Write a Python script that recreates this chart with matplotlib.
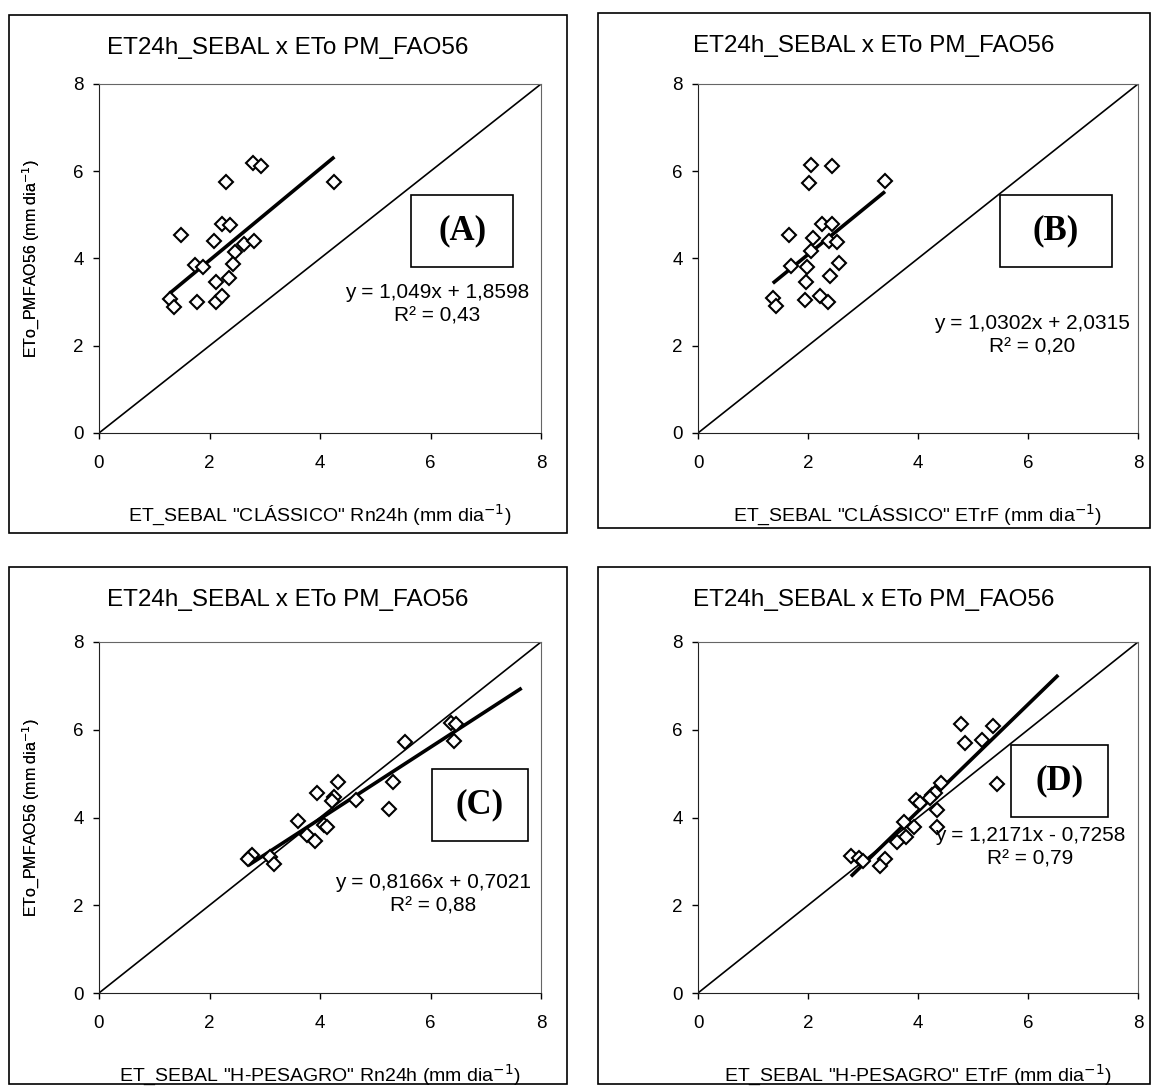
import matplotlib
matplotlib.use("Agg")
import numpy as np
import matplotlib.pyplot as plt
from matplotlib.patches import Rectangle

plt.rcParams['font.family'] = ['Liberation Sans', 'DejaVu Sans']

# ---- dados ----
# (A) SEBAL classico Rn24h
xa = [2.78, 2.94, 2.29, 4.26, 2.23, 2.37, 1.48, 2.09, 2.63, 2.80, 2.47,
      1.74, 1.89, 2.43, 2.12, 2.36, 1.28, 1.36, 1.78, 2.12, 2.23]
ya = [6.19, 6.12, 5.75, 5.75, 4.79, 4.76, 4.54, 4.41, 4.33, 4.41, 4.15,
      3.84, 3.81, 3.87, 3.47, 3.55, 3.08, 2.88, 3.01, 3.01, 3.13]
# (B) SEBAL classico ETrF
xb = [2.05, 2.43, 2.02, 3.40, 2.25, 2.43, 1.65, 2.09, 2.39, 2.53, 2.05,
      1.69, 1.99, 2.57, 2.40, 1.96, 1.36, 1.42, 1.95, 2.22, 2.36]
yb = [6.15, 6.11, 5.73, 5.77, 4.79, 4.79, 4.54, 4.47, 4.39, 4.37, 4.17,
      3.83, 3.81, 3.89, 3.61, 3.47, 3.09, 2.91, 3.05, 3.13, 3.01]
# (C) H-PESAGRO Rn24h
xc = [6.38, 6.47, 6.43, 5.54, 4.33, 5.32, 3.94, 4.25, 4.21, 4.66, 5.24,
      3.61, 4.07, 4.12, 3.77, 3.91, 2.73, 2.77, 2.70, 3.10, 3.16]
yc = [6.16, 6.13, 5.75, 5.71, 4.80, 4.80, 4.55, 4.46, 4.38, 4.40, 4.19,
      3.93, 3.83, 3.79, 3.60, 3.47, 3.09, 3.14, 3.05, 3.11, 2.94]
# (D) H-PESAGRO ETrF
xd = [4.78, 5.37, 4.85, 5.16, 5.43, 4.42, 4.25, 4.31, 3.96, 4.04, 4.21,
      4.34, 4.34, 3.75, 3.92, 3.79, 3.61, 2.78, 2.93, 3.40, 3.31, 3.00]
yd = [6.12, 6.09, 5.70, 5.77, 4.76, 4.78, 4.51, 4.55, 4.40, 4.34, 4.44,
      4.16, 3.79, 3.90, 3.78, 3.56, 3.45, 3.12, 3.07, 3.05, 2.89, 3.00]

# linhas de tendencia (coef. da equacao e intervalo de x)
coef = [(1.049, 1.8598), (1.0302, 2.0315), (0.8166, 0.7021), (1.2171, -0.7258)]
trend_x = [(1.28, 4.26), (1.36, 3.40), (2.70, 7.65), (2.78, 6.55)]
eq_txt = ["y = 1,049x + 1,8598\nR² = 0,43",
          "y = 1,0302x + 2,0315\nR² = 0,20",
          "y = 0,8166x + 0,7021\nR² = 0,88",
          "y = 1,2171x - 0,7258\nR² = 0,79"]
letras = ["(A)", "(B)", "(C)", "(D)"]
xlabels = ['ET_SEBAL "CLÁSSICO" Rn24h (mm dia$^{-1}$)',
           'ET_SEBAL "CLÁSSICO" ETrF (mm dia$^{-1}$)',
           'ET_SEBAL "H-PESAGRO" Rn24h (mm dia$^{-1}$)',
           'ET_SEBAL "H-PESAGRO" ETrF (mm dia$^{-1}$)']
titulo = "ET24h_SEBAL x ETo PM_FAO56"
ylab = "ETo_PMFAO56 (mm dia$^{-1}$)"
ticks = [0, 2, 4, 6, 8]

W, H = 1154, 1086
fig = plt.figure(figsize=(W / 100, H / 100), dpi=100)

# posicoes em pixels: moldura (x0, y0, x1, y1) e area do grafico
molduras = [(9, 15, 567, 533), (598, 13, 1150, 528),
            (9, 567, 567, 1084), (598, 567, 1150, 1084)]
areas = [(99, 84, 541, 433), (698, 84, 1138, 433),
         (99, 642, 541, 993), (698, 642, 1138, 993)]
xlab_y = [515, 515, 1075, 1075]
caixas = [(0.706, 0.476, 0.231, 0.206), (0.686, 0.476, 0.255, 0.206),
          (0.753, 0.433, 0.218, 0.204), (0.711, 0.501, 0.221, 0.206)]
eq_pos = [(0.765, 0.37), (0.759, 0.28), (0.755, 0.28), (0.755, 0.415)]

dados = [(xa, ya), (xb, yb), (xc, yc), (xd, yd)]

for i in range(4):
    fx0, fy0, fx1, fy1 = molduras[i]
    fig.patches.append(Rectangle((fx0 / W, 1 - fy1 / H), (fx1 - fx0) / W, (fy1 - fy0) / H,
                                 transform=fig.transFigure, fill=False,
                                 edgecolor="black", linewidth=1.2))
    fig.text((fx0 + fx1) / 2 / W, 1 - (fy0 + 33) / H, titulo, ha="center", va="center",
             fontsize=17.5)

    x0, y0, x1, y1 = areas[i]
    ax = fig.add_axes([x0 / W, 1 - y1 / H, (x1 - x0) / W, (y1 - y0) / H])
    ax.set_xlim(0, 8)
    ax.set_ylim(0, 8)
    ax.set_xticks(ticks)
    ax.set_yticks(ticks)
    ax.tick_params(direction="out", length=4, width=1, labelsize=13.5, pad=12)
    ax.tick_params(axis="y", pad=7)
    for s in ["left", "bottom"]:
        ax.spines[s].set_color("#222222")
    for s in ["top", "right"]:
        ax.spines[s].set_color("#666666")

    ax.plot([0, 8], [0, 8], color="black", linewidth=1.2)
    a, b = coef[i]
    tx = np.array(trend_x[i])
    ax.plot(tx, a * tx + b, color="black", linewidth=2.6, solid_capstyle="butt")
    x, y = dados[i]
    ax.plot(x, y, linestyle="none", marker="D", markersize=7,
            markerfacecolor="white", markeredgecolor="black", markeredgewidth=1.5)

    bx, by, bw, bh = caixas[i]
    ax.add_patch(Rectangle((bx, by), bw, bh, transform=ax.transAxes, fill=False,
                           edgecolor="black", linewidth=1.2, zorder=5))
    ax.text(bx + bw / 2, by + bh / 2, letras[i], transform=ax.transAxes,
            ha="center", va="center", fontsize=25, fontweight="bold",
            family="Liberation Serif", zorder=6)
    ex, ey = eq_pos[i]
    ax.text(ex, ey, eq_txt[i], transform=ax.transAxes, ha="center", va="center",
            fontsize=15, linespacing=1.3)

    ax.set_xlabel(xlabels[i], fontsize=14, va="center")
    ax.set_ylabel(ylab, fontsize=11.5, va="center")
    ax.xaxis.set_label_coords(0.5, -(xlab_y[i] - y1) / (y1 - y0))
    ax.yaxis.set_label_coords(-(x0 - 31) / (x1 - x0), 0.5)

fig.savefig("out.png", dpi=100)
